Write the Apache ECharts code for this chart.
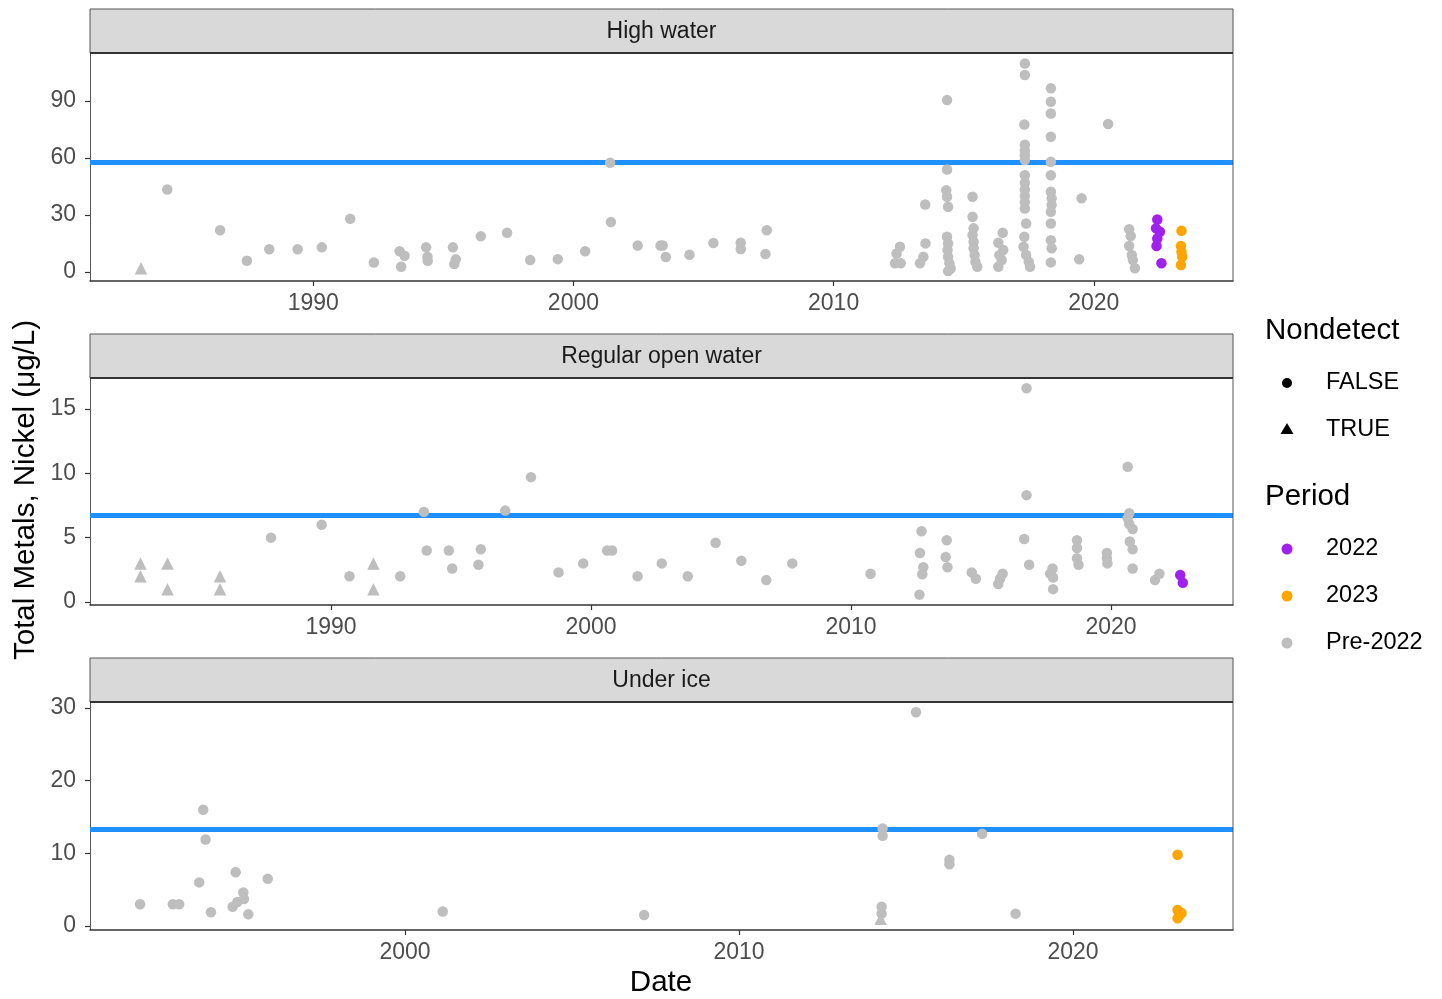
<!DOCTYPE html>
<html>
<head>
<meta charset="utf-8">
<script src="https://cdn.jsdelivr.net/npm/echarts@6/dist/echarts.min.js"></script>
<style>html,body{margin:0;padding:0;background:#fff}#c{width:1442px;height:999px}</style>
</head>
<body>
<div id="c"></div>
<script>
// ---------- DATA ----------
const panelNames = ["High water", "Regular open water", "Under ice"];
const periodNames = ["2022", "2023", "Pre-2022"];
const nondetectNames = ["FALSE", "TRUE"];

// High water: [decimal year, nickel µg/L]
const highPre = [
  [1984.39,43.5],[1986.42,22],[1987.45,6],[1988.31,12],[1989.4,12],[1990.33,13],[1991.42,28],[1992.33,5],
  [1993.32,11],[1993.51,8.6],[1993.38,2.8],[1994.34,13],[1994.39,8],[1994.4,6],
  [1995.37,13],[1995.48,6.7],[1995.42,4.2],[1996.44,18.8],[1997.45,20.7],[1998.34,6.3],[1999.4,6.8],
  [2000.45,11],[2001.41,57.5],[2001.44,26.3],[2002.47,14],[2003.35,14],[2003.43,14],[2003.55,7.9],
  [2004.46,9.1],[2005.38,15.3],[2006.43,15.4],[2006.43,12.1],[2007.43,22],[2007.38,9.5],
  [2012.55,13.3],[2012.42,9.8],[2012.36,4.6],[2012.58,4.6],
  [2013.52,35.6],[2013.53,15.1],[2013.45,8],[2013.32,4.6],
  [2014.36,90.5],[2014.36,54],[2014.33,43],[2014.36,39.6],[2014.4,34.4],[2014.36,18.6],[2014.4,15.1],
  [2014.38,11.6],[2014.4,8],[2014.45,4.6],[2014.5,1.9],[2014.4,0.5],
  [2015.34,39.6],[2015.34,29.1],[2015.38,23],[2015.34,19.5],[2015.38,16],[2015.38,12.5],[2015.42,9],
  [2015.45,5.4],[2015.52,2.8],
  [2016.5,20.7],[2016.33,15.4],[2016.52,11.6],[2016.37,8.9],[2016.46,6.3],[2016.33,2.8],
  [2017.35,109.8],[2017.35,103.7],[2017.33,77.7],[2017.35,67],[2017.35,64],[2017.35,61.5],[2017.35,59],
  [2017.35,51],[2017.35,47],[2017.35,43.5],[2017.35,40],[2017.35,36.8],[2017.35,33.5],[2017.4,25.6],
  [2017.33,18.6],[2017.3,13.3],[2017.4,9],[2017.5,5.4],[2017.55,2.8],
  [2018.35,96.7],[2018.35,89.6],[2018.35,83.5],[2018.35,71.2],[2018.35,58],[2018.35,51],[2018.35,42.3],
  [2018.38,38.8],[2018.38,35.3],[2018.35,31.7],[2018.35,25.6],[2018.35,16.8],[2018.38,12.5],[2018.35,5.1],
  [2019.53,38.8],[2019.44,6.7],[2020.55,77.9],
  [2021.36,22.5],[2021.42,19],[2021.36,13.7],[2021.46,9],[2021.5,6.3],[2021.58,2]
];
const highND = [[1983.38,2]];
const high2022 = [[2022.44,27.7],[2022.39,23],[2022.54,21.2],[2022.44,17.7],[2022.41,13.7],[2022.6,4.6]];
const high2023 = [[2023.37,21.7],[2023.35,13.7],[2023.37,10.7],[2023.4,8],[2023.35,3.7]];
const highGuideline = 57.8;

// Regular open water
const openPre = [
  [1987.69,5],[1989.64,6],[1990.71,2],[1992.66,2],[1993.57,7],[1993.68,4],[1994.53,4],[1994.66,2.6],
  [1995.76,4.1],[1995.67,2.9],[1996.7,7.1],[1997.69,9.7],[1998.75,2.3],[1999.7,3.0],[2000.62,4.0],
  [2000.81,4.0],[2001.79,2.0],[2002.72,3.0],[2003.72,2.0],[2004.79,4.6],[2005.78,3.2],[2006.74,1.7],
  [2007.74,3.0],[2010.75,2.2],
  [2012.71,5.5],[2012.65,3.8],[2012.78,2.7],[2012.74,2.15],[2012.63,0.57],
  [2013.68,4.8],[2013.64,3.5],[2013.71,2.7],[2014.64,2.3],[2014.8,1.8],
  [2015.83,2.2],[2015.73,1.8],[2015.66,1.4],
  [2016.75,16.6],[2016.75,8.3],[2016.66,4.9],[2016.85,2.9],
  [2017.75,2.6],[2017.66,2.2],[2017.77,1.9],[2017.77,1.0],
  [2018.69,4.8],[2018.69,4.2],[2018.69,3.4],[2018.75,2.9],
  [2019.84,3.8],[2019.84,3.4],[2019.86,3.0],
  [2020.64,10.5],[2020.7,6.9],[2020.64,6.5],[2020.7,6.06],[2020.83,5.67],[2020.72,4.7],[2020.83,4.1],[2020.83,2.6],
  [2021.69,1.7],[2021.86,2.2]
];
const openND = [[1982.67,3],[1982.67,2],[1983.71,3],[1983.71,1],[1985.73,2],[1985.73,1],[1991.63,3],[1991.63,1]];
const open2022 = [[2022.66,2.1],[2022.76,1.5]];
const open2023 = [];
const openGuideline = 6.76;

// Under ice
const icePre = [
  [1992.07,3],[1993.05,3],[1993.24,3],[1993.96,16],[1994.03,11.9],[1993.84,6],[1994.19,1.9],[1994.93,7.4],
  [1994.84,2.65],[1994.98,3.3],[1995.16,4.6],[1995.18,3.7],[1995.31,1.6],[1995.89,6.5],[2001.13,2],
  [2007.16,1.5],[2015.3,29.4],[2014.3,13.4],[2014.3,12.4],[2014.27,2.65],[2014.27,1.7],[2016.3,9.1],
  [2016.3,8.5],[2017.28,12.7],[2018.28,1.7]
];
const iceND = [[2014.24,1.0]];
const ice2022 = [];
const ice2023 = [[2023.13,9.8],[2023.13,2.2],[2023.25,1.8],[2023.13,1.05],[2023.2,1.5]];
const iceGuideline = 13.3;

// Tick labels
const highXTicks = [1990, 2000, 2010, 2020];
const openXTicks = [1990, 2000, 2010, 2020];
const iceXTicks = [2000, 2010, 2020];
const highYTicks = [0, 30, 60, 90];
const openYTicks = [0, 5, 10, 15];
const iceYTicks = [0, 10, 20, 30];

// ---------- STYLE / LAYOUT ----------
const FONT = '"Liberation Sans", Arial, sans-serif';
const COL = { pre: '#bebebe', y2022: '#a020f0', y2023: '#ffa500', guide: '#1e90ff' };
const grids = [
  { left: 90, top: 53, width: 1143, height: 228 },
  { left: 90, top: 378, width: 1143, height: 227 },
  { left: 90, top: 702, width: 1143, height: 228 }
];
const xRanges = [[1981.42, 2025.35], [1980.73, 2024.69], [1990.57, 2024.79]];
const yRanges = [[-4.7, 115.3], [-0.233, 17.4], [-0.55, 30.81]];

const panels = [
  { pre: highPre, nd: highND, p22: high2022, p23: high2023, guide: highGuideline, xt: highXTicks, yt: highYTicks },
  { pre: openPre, nd: openND, p22: open2022, p23: open2023, guide: openGuideline, xt: openXTicks, yt: openYTicks },
  { pre: icePre, nd: iceND, p22: ice2022, p23: ice2023, guide: iceGuideline, xt: iceXTicks, yt: iceYTicks }
];

const xAxis = [], yAxis = [], series = [], graphic = [];
panels.forEach((p, i) => {
  xAxis.push({
    type: 'value', gridIndex: i, min: xRanges[i][0], max: xRanges[i][1],
    axisLine: { show: true, onZero: false, lineStyle: { color: '#333', width: 1.5 } },
    axisTick: { show: true, length: 5, customValues: p.xt, lineStyle: { color: '#333', width: 1.2 } },
    axisLabel: { customValues: p.xt, color: '#4d4d4d', fontSize: 23, fontFamily: FONT, margin: 11, formatter: v => String(v) },
    splitLine: { show: false }
  });
  yAxis.push({
    type: 'value', gridIndex: i, min: yRanges[i][0], max: yRanges[i][1],
    axisLine: { show: true, onZero: false, lineStyle: { color: '#555', width: 1 } },
    axisTick: { show: true, length: 5, customValues: p.yt, lineStyle: { color: '#333', width: 1.2 } },
    axisLabel: { customValues: p.yt, color: '#4d4d4d', fontSize: 23, fontFamily: FONT, margin: 14, formatter: v => String(v) },
    splitLine: { show: false }
  });
  const base = { type: 'scatter', xAxisIndex: i, yAxisIndex: i, silent: true, z: 3 };
  series.push(Object.assign({}, base, {
    name: 'Pre-2022', data: p.pre, symbol: 'circle', symbolSize: 10.5,
    itemStyle: { color: COL.pre, opacity: 1 },
    markLine: {
      silent: true, symbol: 'none', z: 1, label: { show: false },
      lineStyle: { color: COL.guide, width: 5, type: 'solid', opacity: 1 },
      data: [{ yAxis: p.guide }]
    }
  }));
  series.push(Object.assign({}, base, {
    name: 'Pre-2022 ND', data: p.nd, symbol: 'triangle', symbolSize: 12.5,
    itemStyle: { color: COL.pre, opacity: 1 }
  }));
  series.push(Object.assign({}, base, {
    name: '2022', data: p.p22, symbol: 'circle', symbolSize: 10.5, itemStyle: { color: COL.y2022, opacity: 1 }
  }));
  series.push(Object.assign({}, base, {
    name: '2023', data: p.p23, symbol: 'circle', symbolSize: 10.5, itemStyle: { color: COL.y2023, opacity: 1 }
  }));

  const g = grids[i];
  // strip
  graphic.push({
    type: 'rect', z: 10,
    shape: { x: g.left, y: g.top - 44, width: g.width, height: 44 },
    style: { fill: '#d9d9d9', stroke: '#555', lineWidth: 1 }
  });
  graphic.push({
    type: 'line', z: 11,
    shape: { x1: g.left, y1: g.top, x2: g.left + g.width, y2: g.top },
    style: { stroke: '#333', lineWidth: 2 }
  });
  graphic.push({
    type: 'text', z: 12, x: g.left + g.width / 2, y: g.top - 21,
    style: { text: panelNames[i], font: '23px ' + FONT, fill: '#1a1a1a', align: 'center', verticalAlign: 'middle' }
  });
  // right border of panel
  graphic.push({
    type: 'line', z: 11,
    shape: { x1: g.left + g.width, y1: g.top, x2: g.left + g.width, y2: g.top + g.height },
    style: { stroke: '#555', lineWidth: 1 }
  });
});

// axis titles
graphic.push({
  type: 'text', x: 661, y: 983,
  style: { text: 'Date', font: '29.5px ' + FONT, fill: '#000', align: 'center', verticalAlign: 'middle' }
});
graphic.push({
  type: 'text', x: 26, y: 490, rotation: Math.PI / 2,
  style: { text: 'Total Metals, Nickel (μg/L)', font: '29.5px ' + FONT, fill: '#000', align: 'center', verticalAlign: 'middle' }
});

// legend
const LX = 1287, TX = 1326;
graphic.push({ type: 'text', x: 1265, y: 331, style: { text: 'Nondetect', font: '29.5px ' + FONT, fill: '#000', align: 'left', verticalAlign: 'middle' } });
graphic.push({ type: 'circle', shape: { cx: LX, cy: 383, r: 5 }, style: { fill: '#000' } });
graphic.push({ type: 'text', x: TX, y: 383, style: { text: nondetectNames[0], font: '23.5px ' + FONT, fill: '#000', align: 'left', verticalAlign: 'middle' } });
graphic.push({ type: 'polygon', shape: { points: [[LX, 423], [LX + 6.5, 434], [LX - 6.5, 434]] }, style: { fill: '#000' } });
graphic.push({ type: 'text', x: TX, y: 430, style: { text: nondetectNames[1], font: '23.5px ' + FONT, fill: '#000', align: 'left', verticalAlign: 'middle' } });
graphic.push({ type: 'text', x: 1265, y: 497, style: { text: 'Period', font: '29.5px ' + FONT, fill: '#000', align: 'left', verticalAlign: 'middle' } });
const perCols = [COL.y2022, COL.y2023, COL.pre];
const perYs = [549, 596, 643];
periodNames.forEach((n, k) => {
  graphic.push({ type: 'circle', shape: { cx: LX, cy: perYs[k], r: 5.5 }, style: { fill: perCols[k] } });
  graphic.push({ type: 'text', x: TX, y: perYs[k], style: { text: n, font: '23.5px ' + FONT, fill: '#000', align: 'left', verticalAlign: 'middle' } });
});

const chart = echarts.init(document.getElementById('c'), null, { renderer: 'canvas' });
chart.setOption({
  backgroundColor: '#fff',
  animation: false,
  textStyle: { fontFamily: FONT },
  grid: grids.map(g => Object.assign({ containLabel: false, outerBoundsMode: 'none' }, g)),
  xAxis, yAxis, series, graphic
});
</script>
</body>
</html>
